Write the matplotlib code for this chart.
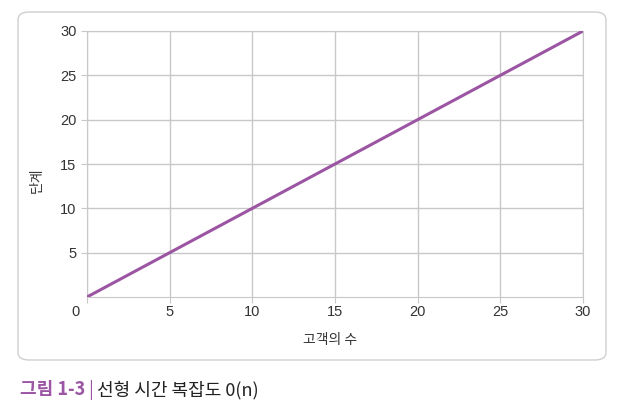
import numpy as np
import matplotlib
matplotlib.use("Agg")
import matplotlib.pyplot as plt
from matplotlib.patches import FancyBboxPatch
from matplotlib.transforms import ScaledTranslation

plt.rcParams['font.family'] = ['Liberation Sans', 'Noto Sans CJK KR', 'DejaVu Sans']

customers = [0, 30]
steps = [0, 30]
x_ticks = [0, 5, 10, 15, 20, 25, 30]
y_ticks = [5, 10, 15, 20, 25, 30]

PURPLE = "#9b55a3"
GRID = "#c8c8c8"
KR = ['Noto Sans CJK KR', 'DejaVu Sans']

fig = plt.figure(figsize=(6.26, 4.17), dpi=100)
W, H = 626, 417

# rounded frame around the chart
box = FancyBboxPatch((18 / W, (H - 360) / H), 588 / W, 348 / H,
                     boxstyle="round,pad=0,rounding_size=0.018",
                     transform=fig.transFigure, facecolor="white",
                     edgecolor="#cfcfcf", lw=1.0, zorder=-5)
fig.patches.append(box)

ax = fig.add_axes([87 / W, (H - 297) / H, 496 / W, 266 / H])
ax.set_zorder(2)
ax.set_facecolor("none")
ax.plot(customers, steps, color=PURPLE, lw=2.2, zorder=3, solid_capstyle="round")
ax.set_xlim(0, 30)
ax.set_ylim(0, 30)
ax.set_xticks(x_ticks)
ax.set_yticks(y_ticks)
ax.grid(True, color=GRID, lw=1.0)
for s in ax.spines.values():
    s.set_color(GRID)
ax.tick_params(colors=GRID, labelcolor="#333333", labelsize=10.5, length=4)
ax.tick_params(axis="x", pad=2)
# the corner "0" sits left of the axis line
lbl0 = ax.get_xticklabels()[0]
lbl0.set_transform(lbl0.get_transform() + ScaledTranslation(-8 / 72, 0, fig.dpi_scale_trans))

fig.text(330 / W, (H - 340) / H, "고객의 수", ha="center", va="center",
         fontsize=10, color="#333333", family=KR)
fig.text(37 / W, (H - 180) / H, "단계", ha="center", va="center", rotation=90,
         fontsize=10, color="#333333", family=KR)

# caption
cx, cy = 20 / W, (H - 390) / H
t1 = fig.text(cx, cy, "그림 1-3", ha="left", va="center", fontsize=13,
              fontweight="bold", color=PURPLE, family=KR)
fig.canvas.draw()
r = fig.canvas.get_renderer()
bb = t1.get_window_extent(r)
t2 = fig.text(bb.x1 / W + 3 / W, cy, "|", ha="left", va="center", fontsize=13,
              color=PURPLE, family=KR)
bb2 = t2.get_window_extent(r)
fig.text(bb2.x1 / W + 4 / W, cy, "선형 시간 복잡도 0(n)", ha="left", va="center",
         fontsize=13, color="#222222", family=KR)

fig.savefig("out.png", dpi=100)
